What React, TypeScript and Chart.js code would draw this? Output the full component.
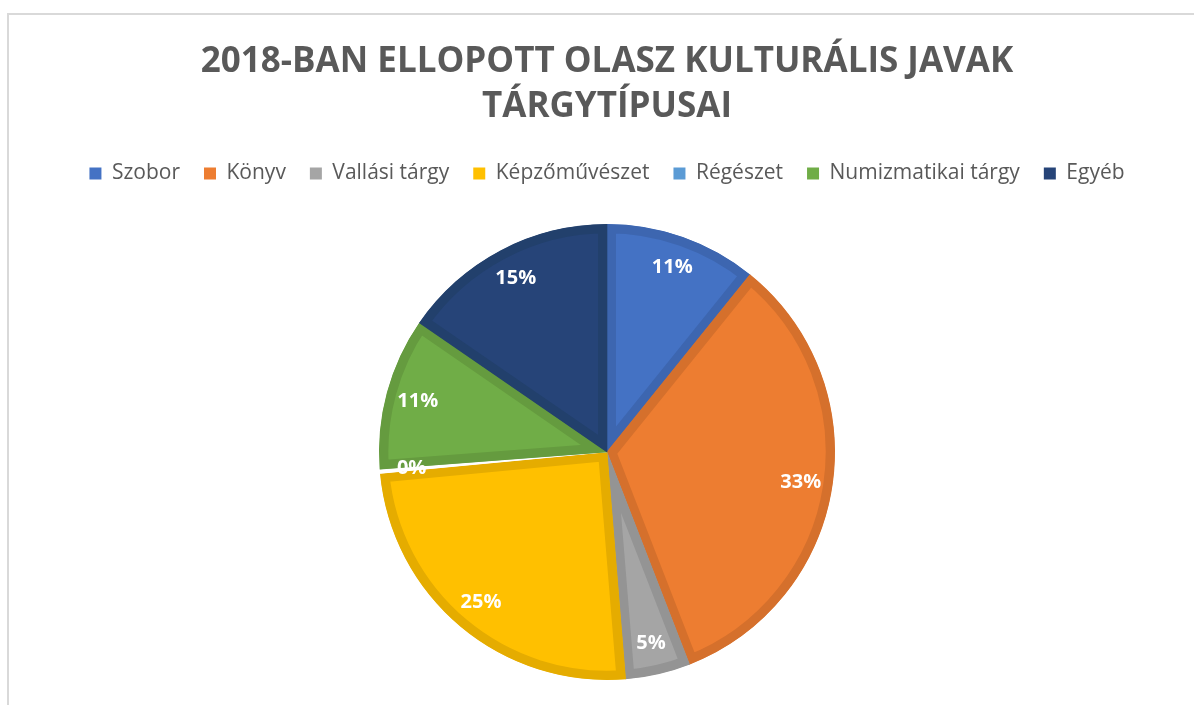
import React, { useEffect, useRef } from "react";
import { Chart, registerables } from "chart.js";

Chart.register(...registerables);

const titleLines = ["2018-BAN ELLOPOTT OLASZ KULTURÁLIS JAVAK", "TÁRGYTÍPUSAI"];
const categories = ["Szobor", "Könyv", "Vallási tárgy", "Képzőművészet", "Régészet", "Numizmatikai tárgy", "Egyéb"];
const shares = [10.8, 33.3, 4.6, 24.8, 0.3, 10.8, 15.4];
const legendColors = ["#4472C4", "#ED7D31", "#A5A5A5", "#FFC000", "#5B9BD5", "#70AD47", "#264478"];
const sliceColors = ["#4472C4", "#ED7D31", "#A5A5A5", "#FFC000", "#FFFFFF", "#70AD47", "#264478"];
const sliceBorders = ["#3D66B0", "#D5702C", "#949494", "#E5AC00", "#FFFFFF", "#659B3F", "#22406C"];

const FONT = "'Open Sans', 'Noto Sans', sans-serif";

const pctLabels = {
  id: "pctLabels",
  afterDatasetsDraw(chart: any) {
    const ctx = chart.ctx;
    const meta = chart.getDatasetMeta(0);
    const data = chart.data.datasets[0].data as number[];
    const total = data.reduce((a, b) => a + b, 0);
    ctx.save();
    ctx.fillStyle = "#FFFFFF";
    ctx.font = `bold 20px ${FONT}`;
    ctx.textAlign = "center";
    ctx.textBaseline = "middle";
    meta.data.forEach((arc: any, i: number) => {
      const p = arc.getProps(["x", "y", "startAngle", "endAngle", "outerRadius"], true);
      const mid = (p.startAngle + p.endAngle) / 2;
      const r = p.outerRadius * 0.86;
      const x = p.x + Math.cos(mid) * r;
      const y = p.y + Math.sin(mid) * r;
      ctx.fillText(Math.round((data[i] / total) * 100) + "%", x, y);
    });
    ctx.restore();
  },
};

const legendSpacer = {
  id: "legendSpacer",
  afterInit(chart: any) {
    const lg = chart.legend;
    if (!lg) return;
    const orig = lg.fit.bind(lg);
    lg.fit = function () {
      orig();
      this.height += 30;
    };
  },
};

export default function App() {
  const ref = useRef<HTMLCanvasElement>(null);
  useEffect(() => {
    if (!ref.current) return;
    const chart = new Chart(ref.current, {
      type: "pie",
      data: {
        labels: categories,
        datasets: [
          {
            data: shares,
            backgroundColor: sliceColors,
            borderColor: sliceBorders,
            borderWidth: 9,
            borderAlign: "inner",
            borderJoinStyle: "miter",
            hoverOffset: 0,
          } as any,
        ],
      },
      options: {
        animation: false,
        responsive: false,
        layout: { padding: { left: 20, right: 0, top: 10, bottom: 25 } },
        plugins: {
          tooltip: { enabled: false },
          title: {
            display: true,
            text: titleLines,
            color: "#595959",
            font: { family: FONT, size: 35, weight: "bold", lineHeight: 1.3 },
            padding: { top: 29, bottom: 9 },
          },
          legend: {
            position: "top",
            labels: {
              color: "#595959",
              font: { family: FONT, size: 21 },
              boxWidth: 12,
              boxHeight: 12,
              padding: 24,
              generateLabels: () =>
                categories.map((c, i) => ({
                  text: c,
                  fillStyle: legendColors[i],
                  strokeStyle: legendColors[i],
                  lineWidth: 0,
                  hidden: false,
                  index: i,
                  fontColor: "#595959",
                })),
            },
          },
        },
      },
      plugins: [pctLabels, legendSpacer],
    });
    return () => chart.destroy();
  }, []);
  return (
    <>
      <div
        style={{
          position: "fixed",
          left: 7,
          top: 13,
          width: 1300,
          height: 800,
          border: "2px solid #D9D9D9",
          background: "#FFFFFF",
        }}
      />
      <canvas
        ref={ref}
        width={1194}
        height={705}
        style={{ position: "fixed", left: 0, top: 0, width: 1194, height: 705 }}
      />
    </>
  );
}
